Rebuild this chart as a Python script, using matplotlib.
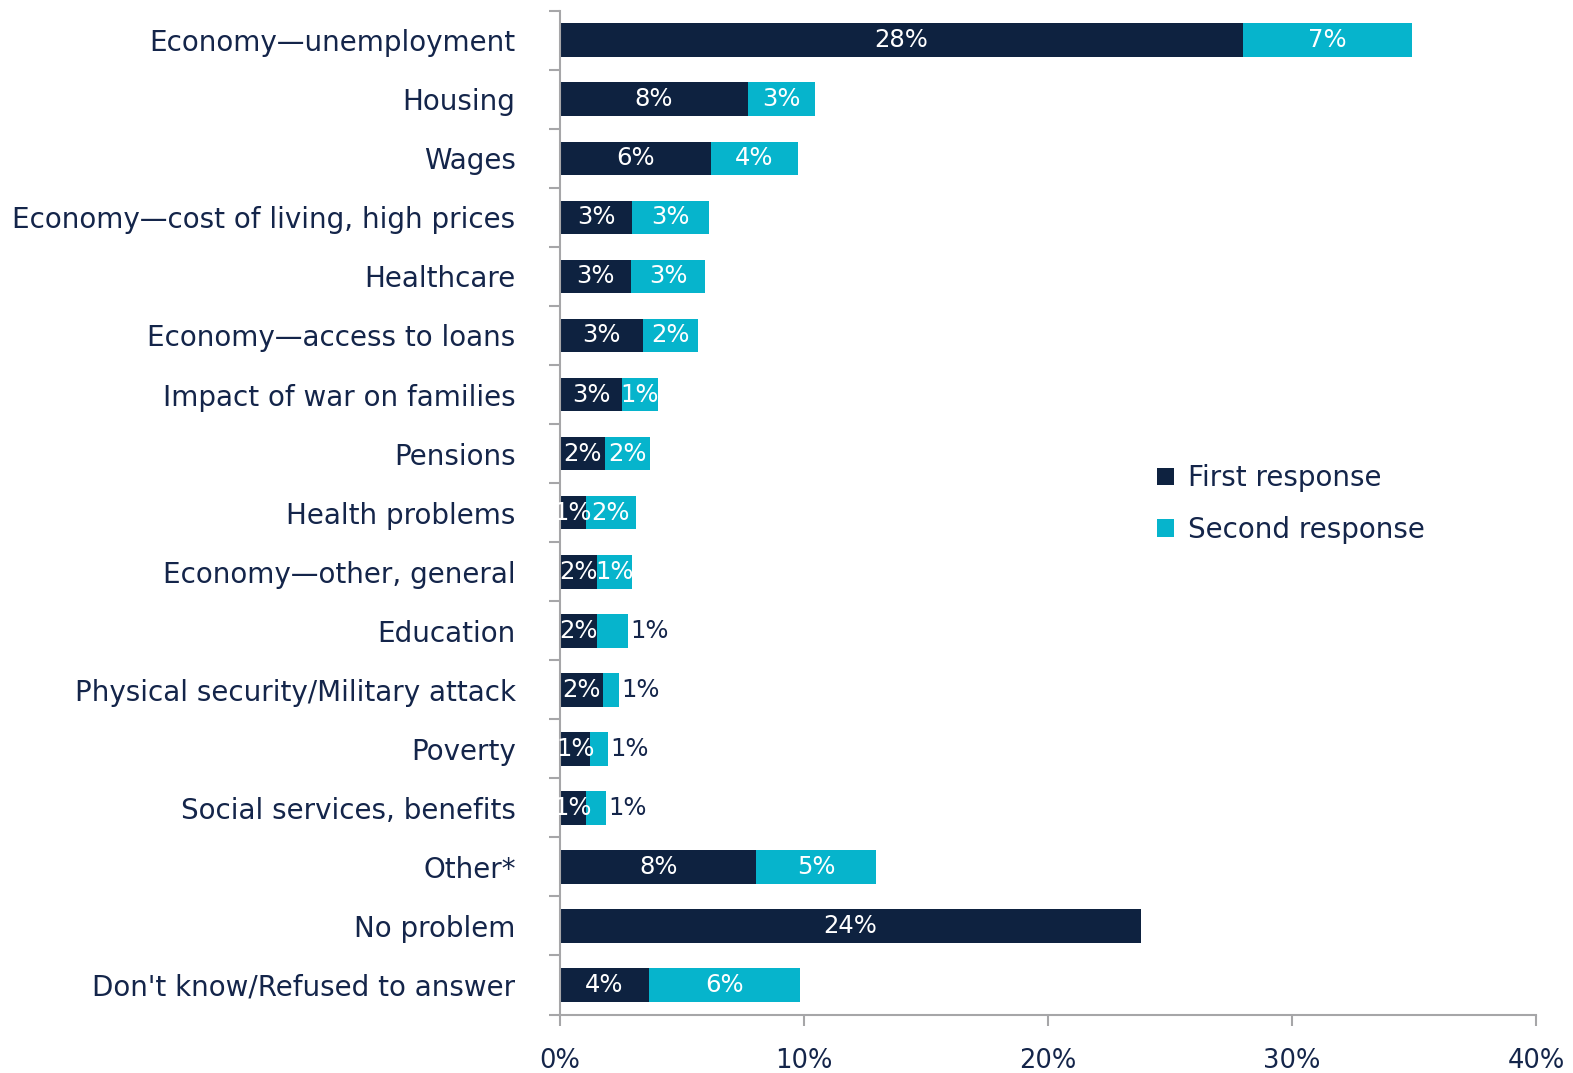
import numpy as np
import matplotlib.pyplot as plt
from matplotlib.ticker import FixedLocator, PercentFormatter

categories = [
    "Economy\u2014unemployment",
    "Housing",
    "Wages",
    "Economy\u2014cost of living, high prices",
    "Healthcare",
    "Economy\u2014access to loans",
    "Impact of war on families",
    "Pensions",
    "Health problems",
    "Economy\u2014other, general",
    "Education",
    "Physical security/Military attack",
    "Poverty",
    "Social services, benefits",
    "Other*",
    "No problem",
    "Don't know/Refused to answer",
]
first_response = [28.0, 7.7, 6.2, 2.95, 2.9, 3.4, 2.55, 1.85, 1.05, 1.5, 1.5, 1.75, 1.25, 1.05, 8.05, 23.8, 3.65]
second_response = [6.9, 2.75, 3.55, 3.15, 3.05, 2.25, 1.45, 1.85, 2.05, 1.45, 1.3, 0.65, 0.7, 0.85, 4.9, 0.0, 6.2]

NAVY = "#0E2240"
CYAN = "#06B4CC"
TEXT = "#14254A"
GREY = "#A6A6A8"

plt.rcParams["font.family"] = ["DejaVu Sans"]

fig = plt.figure(figsize=(15.73, 10.73), dpi=100)
ax = fig.add_axes([0.356, 0.0545, 0.6205, 0.9355])

y = np.arange(len(categories))
first = np.asarray(first_response)
second = np.asarray(second_response)
h = 0.57

b1 = ax.barh(y, first, height=h, color=NAVY, label="First response")
b2 = ax.barh(y, second, left=first, height=h, color=CYAN, label="Second response")

for i in range(len(categories)):
    f, s = first[i], second[i]
    ax.text(f / 2, y[i], f"{int(f + 0.5)}%", ha="center", va="center",
            color="white", fontsize=17.5)
    if s <= 0:
        continue
    if s < 1.35:
        ax.text(f + s + 0.1, y[i], f"{int(s + 0.5)}%", ha="left", va="center",
                color=TEXT, fontsize=17.5)
    else:
        ax.text(f + s / 2, y[i], f"{int(s + 0.5)}%", ha="center", va="center",
                color="white", fontsize=17.5)

ax.set_xlim(0, 40)
ax.set_ylim(len(categories) - 0.5, -0.5)
ax.xaxis.set_major_locator(FixedLocator([0, 10, 20, 30, 40]))
ax.xaxis.set_major_formatter(PercentFormatter(decimals=0))

ax.set_yticks(y)
ax.set_yticklabels(categories)
ax.yaxis.set_minor_locator(FixedLocator(np.arange(-0.5, len(categories), 1.0)))
ax.tick_params(axis="y", which="major", length=0, pad=32, labelsize=20, labelcolor=TEXT)
ax.tick_params(axis="y", which="minor", length=8, width=1.5, color=GREY)
ax.tick_params(axis="x", which="major", length=8, width=1.5, color=GREY,
               labelsize=18.5, labelcolor=TEXT, pad=16)

for side in ["top", "right"]:
    ax.spines[side].set_visible(False)
for side in ["left", "bottom"]:
    ax.spines[side].set_color(GREY)
    ax.spines[side].set_linewidth(1.5)

ax.legend(handles=[b1, b2], loc="upper left", bbox_to_anchor=(0.586, 0.573),
          frameon=False, fontsize=20, labelcolor=TEXT,
          handlelength=0.6, handleheight=0.6, handletextpad=0.5, labelspacing=0.85)

fig.savefig("out.png", dpi=100)
